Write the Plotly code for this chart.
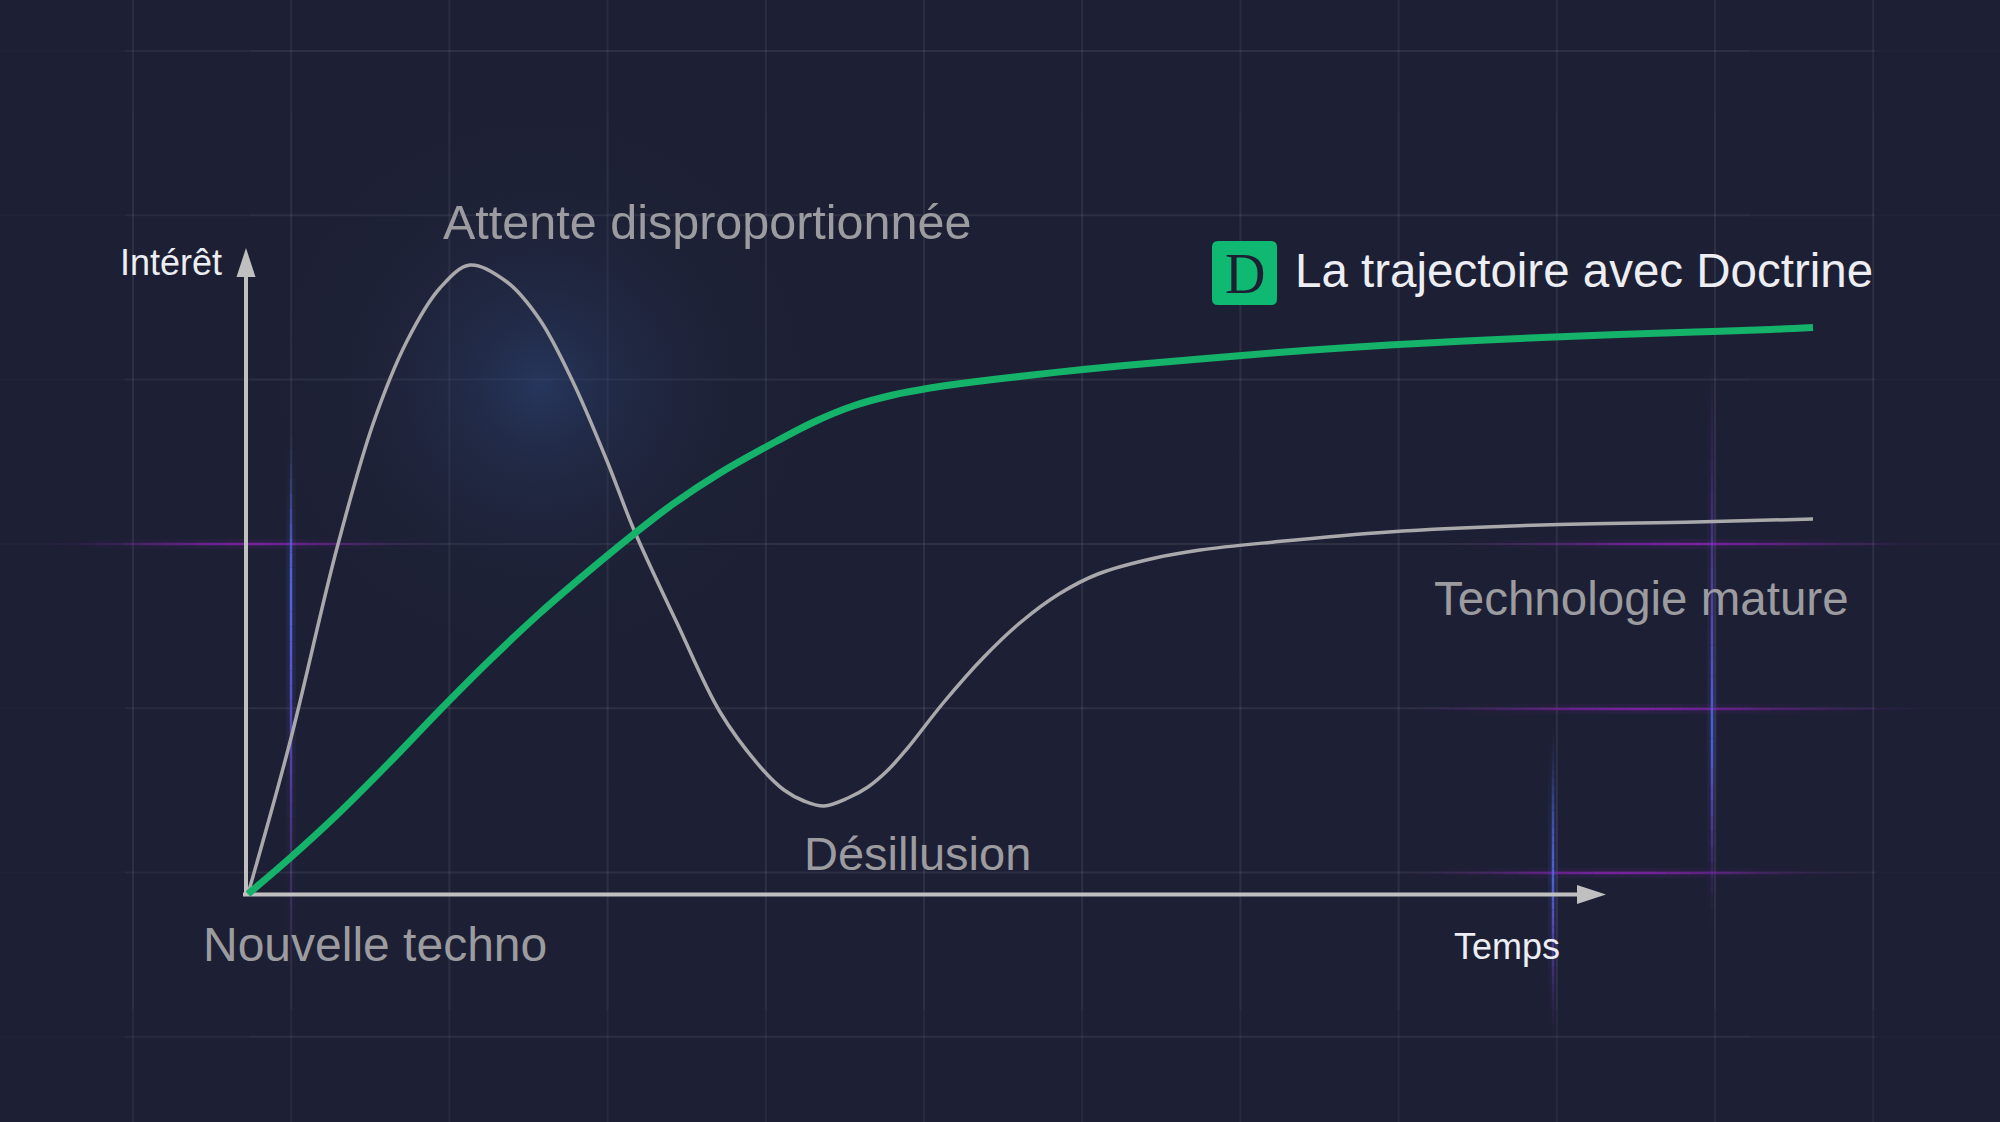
import math
import plotly.graph_objects as go

# ---------------- data ----------------
hype_time = [0, 0.42, 0.89, 1.25, 1.59, 1.92, 2.22, 2.59, 2.92, 3.25, 3.59, 3.86,
             4.29, 4.72, 5.15, 5.36, 5.56, 5.76, 6.00, 6.20, 6.40, 6.58, 6.96,
             7.35, 7.73, 8.11, 8.50, 9.07, 9.52, 10.26, 11.41, 12.94, 14.47, 15.65]
hype_interest = [0, 1.52, 3.46, 4.70, 5.53, 6.06, 6.29, 6.12, 5.74, 5.12, 4.33, 3.64,
                 2.71, 1.82, 1.24, 1.04, 0.93, 0.88, 0.96, 1.07, 1.24, 1.44, 1.92,
                 2.36, 2.72, 3.00, 3.20, 3.36, 3.44, 3.52, 3.62, 3.69, 3.72, 3.75]

doctrine_time = [0, 0.42, 0.92, 1.42, 1.92, 2.42, 2.92, 3.42, 3.86, 4.25, 4.72, 5.29,
                 5.68, 6.05, 6.45, 6.82, 7.21, 7.58, 8.35, 9.11, 9.88, 10.64, 11.41,
                 12.17, 12.94, 13.70, 14.47, 15.23, 15.65]
doctrine_interest = [0, 0.36, 0.82, 1.32, 1.84, 2.34, 2.81, 3.24, 3.60, 3.90, 4.21, 4.53,
                     4.73, 4.88, 4.99, 5.06, 5.115, 5.16, 5.245, 5.315, 5.38, 5.44, 5.49,
                     5.53, 5.565, 5.595, 5.62, 5.645, 5.665]

phase_labels = ["Nouvelle techno", "Attente disproportionnée", "Désillusion", "Technologie mature"]
axis_labels = ["Intérêt", "Temps"]
legend_label = "La trajectoire avec Doctrine"
logo_letter = "D"

# ---------------- styling / geometry ----------------
W, H = 2000, 1122
BG = "#1d2034"
GREY_LINE = "#a9a9ac"
GREY_TEXT = "#9c9ca0"
WHITE_TEXT = "#eceef3"
GREEN = "#15b26a"
LOGO_GREEN = "#10b972"
AXIS = "#c0c0c0"
FONT = "Liberation Sans, Arial, Helvetica, sans-serif"

ORIGIN_PX = (248.0, 894.0)
PPU = 100.0  # pixels per data unit


def dx(px):
    return (px - ORIGIN_PX[0]) / PPU


def dy(py):
    return (ORIGIN_PX[1] - py) / PPU


shapes = []


def add_line(x0, y0, x1, y1, color, width, opacity=1.0, layer="below"):
    shapes.append(dict(type="line", xref="x", yref="y",
                       x0=dx(x0), y0=dy(y0), x1=dx(x1), y1=dy(y1),
                       line=dict(color=color, width=width),
                       opacity=opacity, layer=layer))


def mix(c1, c2, t):
    return "rgb(%d,%d,%d)" % tuple(round(a + (b - a) * t) for a, b in zip(c1, c2))


def profile(p, start, peak, end):
    if p <= peak:
        u = (p - start) / max(peak - start, 1e-6)
    else:
        u = (end - p) / max(end - peak, 1e-6)
    u = min(max(u, 0.0), 1.0)
    return math.sin(math.pi / 2 * u) ** 2


def faded(orient, fixed, start, end, peak, c_start, c_peak, c_end, width, alpha, n=40):
    step = (end - start) / n
    for i in range(n):
        a = start + i * step
        b = a + step
        m = (a + b) / 2
        f = profile(m, start, peak, end)
        if m <= peak:
            col = mix(c_start, c_peak, (m - start) / max(peak - start, 1e-6))
        else:
            col = mix(c_peak, c_end, (m - peak) / max(end - peak, 1e-6))
        if orient == "h":
            add_line(a, fixed, b, fixed, col, width * 4, alpha * f * 0.12)
            add_line(a, fixed, b, fixed, col, width, alpha * f)
        else:
            add_line(fixed, a, fixed, b, col, width * 4, alpha * f * 0.12)
            add_line(fixed, a, fixed, b, col, width, alpha * f)


# background grid
grid_x = [133 + 158.2 * k for k in range(12)]
grid_y = [51 + 164.3 * k for k in range(7)]
GRID_C = "rgba(255,255,255,0.075)"
for gy in grid_y:
    n = 16
    for i in range(n):
        a = 0 + i * W / n
        b = a + W / n
        m = (a + b) / 2
        f = min(1.0, m / 260.0, (W - m) / 260.0)
        add_line(a, gy, b, gy, GRID_C, 2, max(f, 0.0))
for gx in grid_x:
    n = 10
    for i in range(n):
        a = 0 + i * H / n
        b = a + H / n
        m = (a + b) / 2
        f = min(1.0, (H - m) / 160.0 + 0.3, m / 120.0 + 0.4)
        add_line(gx, a, gx, b, GRID_C, 2, max(f, 0.0))

# coloured glowing grid accents
PURPLE = (140, 32, 182)
BLUE = (80, 104, 226)
DIMP = (90, 30, 130)
faded("h", 544, 20, 460, 250, DIMP, PURPLE, DIMP, 2.5, 0.75)
faded("h", 544, 1420, 1960, 1690, DIMP, PURPLE, DIMP, 2.5, 0.8)
faded("h", 709, 1380, 1960, 1640, DIMP, PURPLE, DIMP, 2.5, 0.8)
faded("h", 873, 1380, 1880, 1620, DIMP, PURPLE, DIMP, 2.5, 0.8)
faded("v", 291, 420, 1010, 600, BLUE, BLUE, PURPLE, 2.5, 0.95)
faded("v", 1553, 720, 1050, 880, BLUE, BLUE, PURPLE, 2.5, 0.9)
faded("v", 1712, 320, 940, 740, PURPLE, BLUE, PURPLE, 2.5, 0.9)

# axes with arrow heads
add_line(243, 894.5, 1580, 894.5, AXIS, 4)
add_line(246, 896, 246, 274, AXIS, 4)


def tri_path(pts):
    return "M " + " L ".join("%.4f,%.4f" % (dx(px), dy(py)) for px, py in pts) + " Z"


shapes.append(dict(type="path", xref="x", yref="y", layer="below",
                   path=tri_path([(1577, 885), (1606, 894.5), (1577, 904)]),
                   fillcolor=AXIS, line=dict(width=0)))
shapes.append(dict(type="path", xref="x", yref="y", layer="below",
                   path=tri_path([(236.5, 277), (246, 248), (255.5, 277)]),
                   fillcolor=AXIS, line=dict(width=0)))

# Doctrine logo (rounded square)
lx0, lx1, ly0, ly1, r = 1212, 1277, 241, 305, 6
logo_path = ("M {a},{b} L {c},{b} Q {d},{b} {d},{e} L {d},{f} Q {d},{g} {c},{g} "
             "L {a},{g} Q {h},{g} {h},{f} L {h},{e} Q {h},{b} {a},{b} Z").format(
    a=dx(lx0 + r), b=dy(ly0), c=dx(lx1 - r), d=dx(lx1), e=dy(ly0 + r),
    f=dy(ly1 - r), g=dy(ly1), h=dx(lx0))
shapes.append(dict(type="path", xref="x", yref="y", layer="above", path=logo_path,
                   fillcolor=LOGO_GREEN, line=dict(width=0)))

fig = go.Figure()

# soft glow behind the peak (radial gradient: gradient.color is the centre colour)
for size, col in [(580, "rgba(44,68,118,0.38)"), (400, "rgba(44,68,118,0.26)"),
                  (220, "rgba(44,68,118,0.16)")]:
    fig.add_trace(go.Scatter(
        x=[dx(540)], y=[dy(385)], mode="markers", hoverinfo="skip", showlegend=False,
        marker=dict(size=size, color="rgba(29,32,52,0)", line=dict(width=0),
                    gradient=dict(type="radial", color=col))))

fig.add_trace(go.Scatter(
    x=hype_time, y=hype_interest, mode="lines", name="Hype",
    line=dict(color=GREY_LINE, width=3.5, shape="spline", smoothing=1.0),
    hoverinfo="skip", showlegend=False))
fig.add_trace(go.Scatter(
    x=doctrine_time, y=doctrine_interest, mode="lines", name=legend_label,
    line=dict(color=GREEN, width=7, shape="spline", smoothing=1.0),
    hoverinfo="skip", showlegend=False))


def ann(text, xpx, ypx, size, color, xanchor="center", family=FONT):
    return dict(text=text, x=dx(xpx), y=dy(ypx), xref="x", yref="y",
                xanchor=xanchor, yanchor="middle", showarrow=False,
                font=dict(family=family, size=size, color=color))


annotations = [
    ann(axis_labels[0], 224, 262, 36, WHITE_TEXT, xanchor="right"),
    ann(axis_labels[1], 1507, 946, 36, WHITE_TEXT),
    ann(phase_labels[0], 375, 944, 48, GREY_TEXT),
    ann(phase_labels[1], 707, 222, 48.5, GREY_TEXT),
    ann(phase_labels[2], 917, 853, 47, GREY_TEXT),
    ann(phase_labels[3], 1641, 598, 47.5, GREY_TEXT),
    ann(legend_label, 1293, 270, 47.5, WHITE_TEXT, xanchor="left"),
    ann(logo_letter, 1245, 274, 56, BG, family="Liberation Serif, DejaVu Serif, serif"),
]

fig.update_layout(
    width=W, height=H,
    margin=dict(l=0, r=0, t=0, b=0),
    paper_bgcolor=BG, plot_bgcolor=BG,
    xaxis=dict(range=[dx(0), dx(W)], visible=False, fixedrange=True),
    yaxis=dict(range=[dy(H), dy(0)], visible=False, fixedrange=True),
    shapes=shapes, annotations=annotations,
    showlegend=False,
)

fig.write_html(
    "out.html",
    config={"displayModeBar": False},
    post_script="document.body.style.margin='0';document.body.style.overflow='hidden';"
                "document.body.style.background='#1d2034';",
)
